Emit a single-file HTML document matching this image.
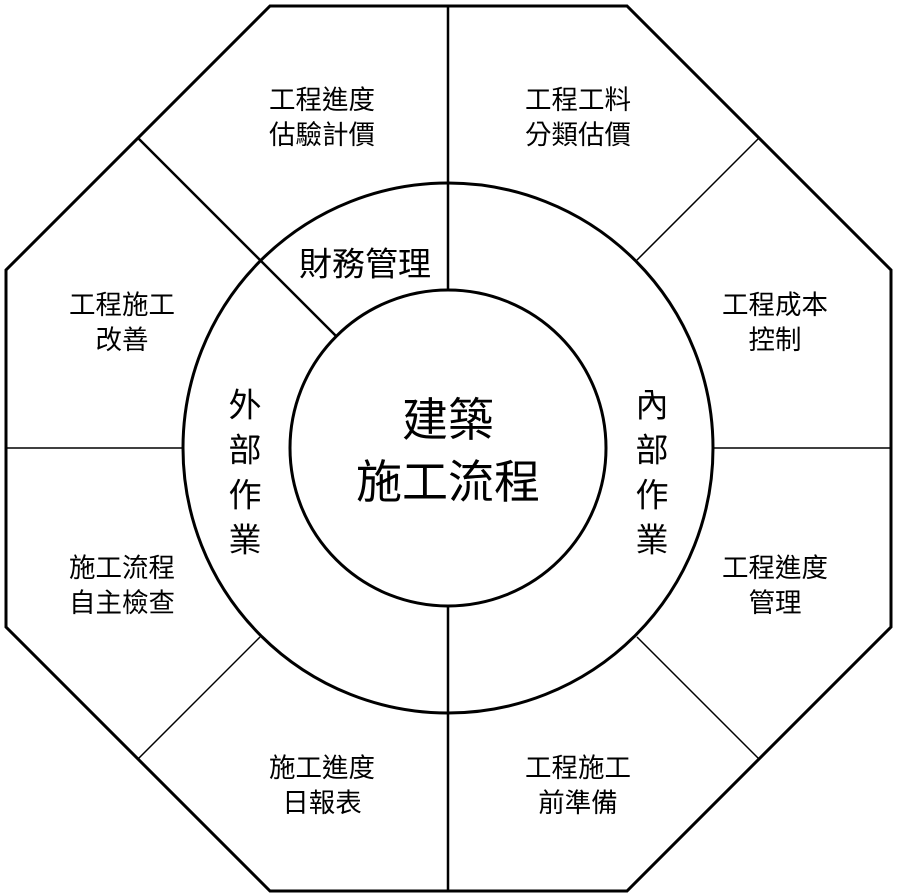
<!DOCTYPE html>
<html><head><meta charset="utf-8"><style>
html,body{margin:0;padding:0;background:#fff;}
svg{display:block;}
text{font-family:"Liberation Sans","Noto Sans CJK TC",sans-serif;fill:#000;text-anchor:middle;dominant-baseline:central;}
.c{font-size:26.5px;}
.r{font-size:33px;}
.m{font-size:46px;}
</style></head><body>
<svg width="898" height="896" viewBox="0 0 898 896">
<polygon points="270,6 627,6 891,270 891,627 627,891 270,891 6,627 6,270" fill="none" stroke="#000" stroke-width="3"/>
<circle cx="448" cy="448" r="265" fill="none" stroke="#000" stroke-width="3"/>
<circle cx="448" cy="448" r="158" fill="none" stroke="#000" stroke-width="3"/>
<g stroke="#000">
<line x1="448" y1="6" x2="448" y2="290" stroke-width="2.5"/>
<line x1="448" y1="606" x2="448" y2="891" stroke-width="2.5"/>
<line x1="138" y1="138" x2="336" y2="336" stroke-width="2.5"/>
<line x1="6" y1="448" x2="183" y2="448" stroke-width="1.5"/>
<line x1="713" y1="448" x2="891" y2="448" stroke-width="1.5"/>
<line x1="759" y1="138" x2="637" y2="260" stroke-width="1.5"/>
<line x1="759" y1="759" x2="637" y2="637" stroke-width="1.5"/>
<line x1="138" y1="759" x2="260" y2="637" stroke-width="1.5"/>
</g>
<g class="c">
<text x="322" y="100" class="c">工程進度</text>
<text x="322" y="135" class="c">估驗計價</text>
<text x="578" y="100" class="c">工程工料</text>
<text x="578" y="135" class="c">分類估價</text>
<text x="775" y="305" class="c">工程成本</text>
<text x="775" y="340" class="c">控制</text>
<text x="775" y="568" class="c">工程進度</text>
<text x="775" y="603" class="c">管理</text>
<text x="578" y="768" class="c">工程施工</text>
<text x="578" y="803" class="c">前準備</text>
<text x="322" y="768" class="c">施工進度</text>
<text x="322" y="803" class="c">日報表</text>
<text x="122" y="568" class="c">施工流程</text>
<text x="122" y="603" class="c">自主檢查</text>
<text x="122" y="305" class="c">工程施工</text>
<text x="122" y="340" class="c">改善</text>
</g>
<text x="365" y="264" class="r">財務管理</text>
<g>
<text x="245" y="405" class="r">外</text><text x="245" y="450" class="r">部</text><text x="245" y="495" class="r">作</text><text x="245" y="540" class="r">業</text>
</g>
<g>
<text x="652" y="405" class="r">內</text><text x="652" y="450" class="r">部</text><text x="652" y="495" class="r">作</text><text x="652" y="540" class="r">業</text>
</g>
<text x="448" y="420" class="m">建築</text>
<text x="448" y="482" class="m">施工流程</text>
</svg>
</body></html>
